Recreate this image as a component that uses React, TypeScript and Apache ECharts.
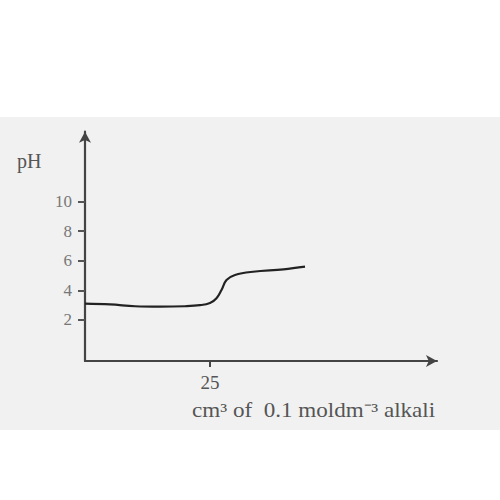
import React, { useEffect, useRef } from "react";
import * as echarts from "echarts";

const volumes = [0, 5, 10, 15, 20, 23, 25, 26.3, 27.3, 28.3, 30, 33.6, 39.7, 44];
const phValues = [3.1, 3.05, 2.93, 2.9, 2.93, 3.0, 3.15, 3.47, 4.03, 4.7, 5.04, 5.26, 5.42, 5.6];
const yTickValues = [2, 4, 6, 8, 10];
const xTickValues = [25];
const yAxisTitle = "pH";
const xAxisTitle = "cm\u00b3 of  0.1 moldm\u207b\u00b3 alkali";

export default function App() {
  const ref = useRef<HTMLDivElement>(null);
  useEffect(() => {
    if (!ref.current) return;
    const chart = echarts.init(ref.current, null, { renderer: "svg" });
    const serif = "Liberation Serif";
    chart.setOption({
      animation: false,
      backgroundColor: "#ffffff",
      graphic: [
        {
          type: "rect",
          z: -10,
          silent: true,
          shape: { x: 0, y: 117, width: 500, height: 313 },
          style: { fill: "#f1f1f1" },
        },
        {
          type: "text",
          x: 17,
          y: 151,
          style: {
            text: yAxisTitle,
            font: `20px '${serif}'`,
            fill: "#555",
          },
        },
        {
          type: "text",
          x: 192,
          y: 401,
          scaleX: 1.155,
          style: {
            text: xAxisTitle,
            font: `20px '${serif}'`,
            fill: "#555",
          },
        },
      ],
      grid: {
        left: 85,
        right: 63,
        top: 131.7,
        bottom: 139,
        outerBoundsMode: "none",
        containLabel: false,
      },
      xAxis: {
        type: "value",
        min: 0,
        max: 70.4,
        splitLine: { show: false },
        axisLine: {
          show: true,
          onZero: false,
          symbol: ["none", "arrow"],
          symbolSize: [9, 11],
          lineStyle: { color: "#444", width: 2.2 },
        },
        axisTick: {
          show: true,
          customValues: xTickValues,
          length: 6,
          lineStyle: { color: "#444", width: 2 },
        },
        axisLabel: {
          show: true,
          customValues: xTickValues,
          margin: 12,
          color: "#555",
          fontFamily: serif,
          fontSize: 19,
        },
      },
      yAxis: {
        type: "value",
        min: -0.77,
        max: 14.72,
        splitLine: { show: false },
        axisLine: {
          show: true,
          onZero: false,
          symbol: ["none", "arrow"],
          symbolSize: [9, 11],
          lineStyle: { color: "#444", width: 2.2 },
        },
        axisTick: {
          show: true,
          customValues: yTickValues,
          length: 7,
          lineStyle: { color: "#555", width: 2 },
        },
        axisLabel: {
          show: true,
          customValues: yTickValues,
          margin: 13,
          color: "#777",
          fontFamily: serif,
          fontSize: 17,
        },
      },
      series: [
        {
          type: "line",
          data: volumes.map((v, i) => [v, phValues[i]]),
          smooth: 0.4,
          showSymbol: false,
          lineStyle: { color: "#222", width: 2.2 },
        },
      ],
    });
    return () => chart.dispose();
  }, []);
  return (
    <div
      ref={ref}
      style={{ position: "fixed", left: 0, top: 0, width: 500, height: 500 }}
    />
  );
}
